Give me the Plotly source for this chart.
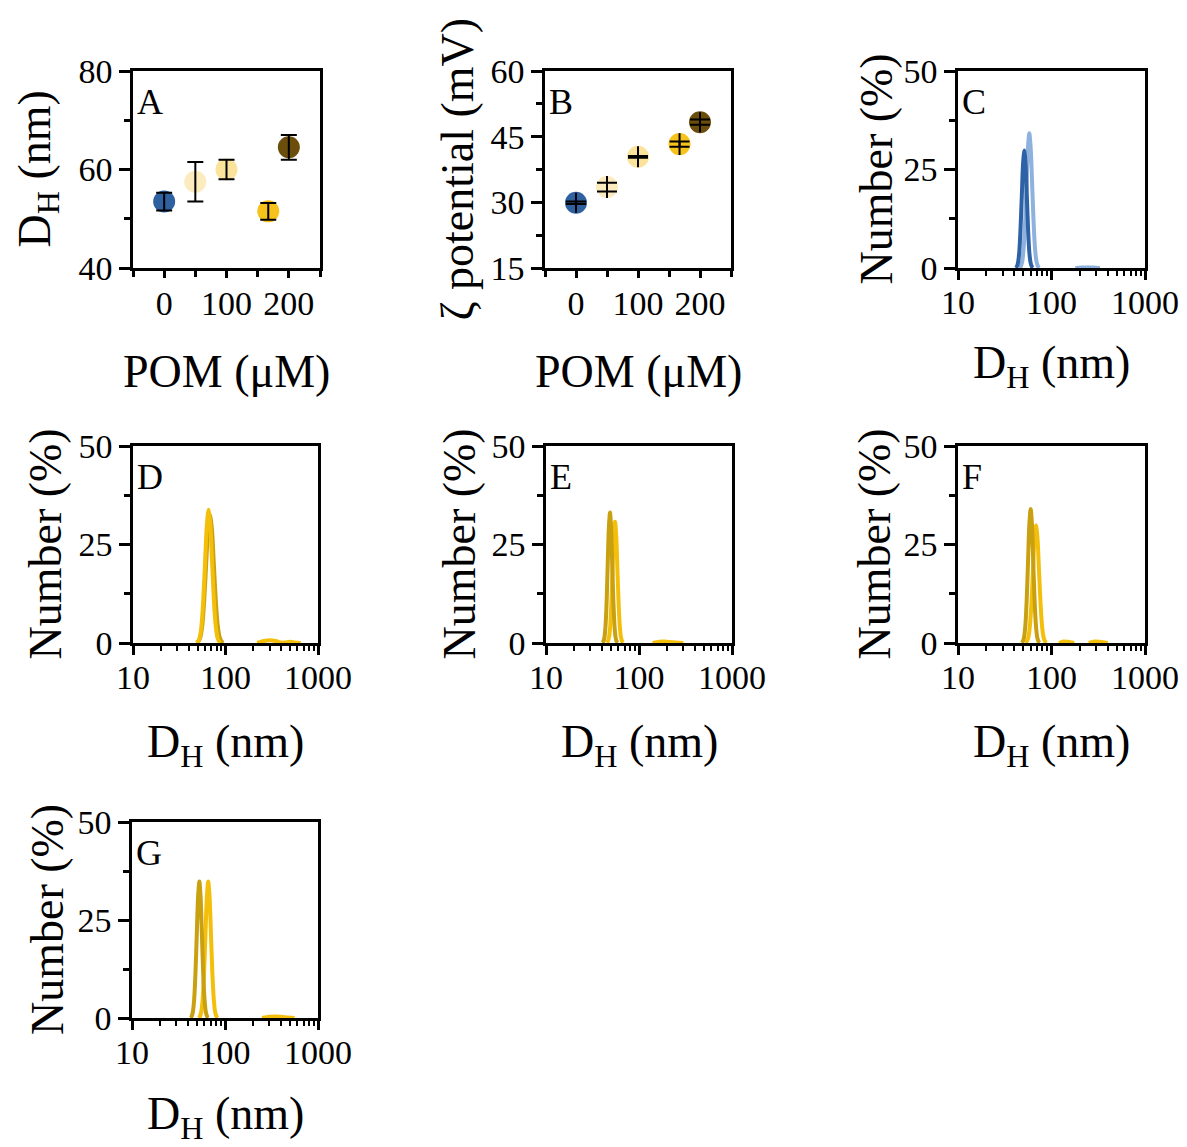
import plotly.graph_objects as go

W, H = 1187, 1147
FONT = "Liberation Serif"

# ---- Panel A / B : DLS size and zeta potential vs POM concentration ----
pom_conc = [0, 50, 100, 167, 200]
point_colors = ["#2f60a0", "#fbebbf", "#fbe39c", "#f6c21c", "#6b4d0c"]

dh_mean = [53.5, 57.5, 60.0, 51.5, 64.5]
dh_err = [1.8, 4.0, 2.0, 1.7, 2.5]

zeta_mean = [29.9, 33.5, 40.4, 43.3, 48.3]
zeta_err_outer = [2.3, 2.5, 2.4, 2.5, 2.3]
zeta_err_inner = [0.3, 1.0, 0.2, 0.6, 0.6]

# ---- Panels C-G : number-weighted size distributions ----
c_dark_x = [41.2, 42.5, 43.8, 45.2, 46.6, 48.1, 49.6, 51.2, 52.8, 54.5, 56.2, 57.9, 59.8, 61.7, 63.6]
c_dark_y = [0.07, 0.33, 1.31, 4.03, 9.68, 18.07, 26.3, 29.8, 26.3, 18.07, 9.68, 4.03, 1.31, 0.33, 0.07]
c_light_x = [45.1, 46.8, 48.5, 50.2, 52.1, 54.0, 55.9, 57.9, 60.0, 62.2, 64.5, 66.8, 69.3, 71.8, 74.4,
             None, 180, 210, 240, 280, 330]
c_light_y = [0.08, 0.38, 1.50, 4.63, 11.1, 20.7, 30.2, 34.2, 30.2, 20.7, 11.1, 4.63, 1.50, 0.38, 0.08,
             None, 0, 0.1, 0.15, 0.1, 0]

d_dark_x = [48.5, 50.9, 53.4, 56.1, 58.8, 61.7, 64.8, 68.0, 71.4, 74.9, 78.6, 82.5, 86.6, 90.9, 95.4]
d_dark_y = [0.07, 0.36, 1.43, 4.40, 10.6, 19.7, 28.7, 32.5, 28.7, 19.7, 10.6, 4.40, 1.43, 0.36, 0.07]
d_bright_x = [48.3, 50.5, 52.7, 55.1, 57.5, 60.1, 62.8, 65.6, 68.5, 71.6, 74.8, 78.2, 81.7, 85.3, 89.1,
              None, 220, 260, 300, 350, 400, 440, 500, 560, 650]
d_bright_y = [0.07, 0.38, 1.48, 4.57, 11.0, 20.5, 29.8, 33.8, 29.8, 20.5, 11.0, 4.57, 1.48, 0.38, 0.07,
              None, 0, 0.5, 0.7, 0.5, 0.1, 0.15, 0.3, 0.15, 0]

e_dark_x = [40.2, 41.3, 42.5, 43.7, 44.9, 46.1, 47.4, 48.8, 50.1, 51.5, 53.0, 54.5, 56.0, 57.5, 59.2]
e_dark_y = [0.07, 0.37, 1.45, 4.48, 10.7, 20.1, 29.2, 33.1, 29.2, 20.1, 10.7, 4.48, 1.45, 0.37, 0.07]
e_bright_x = [44.8, 46.1, 47.5, 49.0, 50.4, 52.0, 53.6, 55.2, 56.9, 58.6, 60.4, 62.2, 64.1, 66.1, 68.1,
              None, 140, 165, 185, 210, 250, 300]
e_bright_y = [0.07, 0.34, 1.35, 4.17, 10.0, 18.7, 27.2, 30.8, 27.2, 18.7, 10.0, 4.17, 1.35, 0.34, 0.07,
              None, 0, 0.3, 0.4, 0.25, 0.1, 0]

f_dark_x = [47.8, 49.3, 50.9, 52.6, 54.3, 56.1, 57.9, 59.9, 61.8, 63.8, 65.9, 68.1, 70.3, 72.6, 75.0]
f_dark_y = [0.07, 0.38, 1.49, 4.60, 11.0, 20.6, 30.0, 34.0, 30.0, 20.6, 11.0, 4.60, 1.49, 0.38, 0.07]
f_bright_x = [52.3, 54.3, 56.4, 58.6, 60.9, 63.2, 65.7, 68.3, 70.9, 73.6, 76.5, 79.4, 82.5, 85.7, 89.0,
              None, 120, 135, 150, 175, None, 250, 290, 330, 400]
f_bright_y = [0.07, 0.33, 1.31, 4.05, 9.71, 18.1, 26.4, 29.9, 26.4, 18.1, 9.71, 4.05, 1.31, 0.33, 0.07,
              None, 0, 0.4, 0.3, 0, None, 0, 0.4, 0.3, 0]

g_dark_x = [42.3, 43.7, 45.1, 46.6, 48.1, 49.7, 51.3, 53.0, 54.7, 56.5, 58.3, 60.3, 62.2, 64.3, 66.4]
g_dark_y = [0.08, 0.39, 1.53, 4.71, 11.3, 21.1, 30.7, 34.8, 30.7, 21.1, 11.3, 4.71, 1.53, 0.39, 0.08]
g_bright_x = [51.8, 53.6, 55.5, 57.5, 59.5, 61.6, 63.8, 66.0, 68.3, 70.7, 73.2, 75.8, 78.4, 81.2, 84.0,
              None, 250, 300, 340, 400, 480, 560]
g_bright_y = [0.08, 0.39, 1.53, 4.71, 11.3, 21.1, 30.7, 34.8, 30.7, 21.1, 11.3, 4.71, 1.53, 0.39, 0.08,
              None, 0, 0.3, 0.4, 0.3, 0.1, 0]

BLUE_DARK, BLUE_LIGHT = "#2d62a6", "#8eb1dd"
GOLD_DARK, GOLD_BRIGHT = "#c9a010", "#f4bf0a"

# panel boxes in pixels: (left, top, right, bottom)
boxes = {
    "A": (133, 71, 320, 268),
    "B": (545, 71, 731, 268),
    "C": (958, 71, 1145, 268),
    "D": (133, 446, 318, 643),
    "E": (546, 446, 732, 643),
    "F": (958, 446, 1145, 643),
    "G": (132, 822, 318, 1018),
}


def fx(px):
    return px / W


def fy(py):
    return 1 - py / H


fig = go.Figure()

axis_common = dict(
    showline=True, linewidth=2.5, linecolor="black", mirror=True,
    ticks="outside", tickwidth=2.5, tickcolor="black", ticklen=7,
    showgrid=False, zeroline=False, automargin=False,
    tickfont=dict(family=FONT, size=34, color="black"),
)

layout = {}
for i, (name, (l, t, r, b)) in enumerate(boxes.items(), start=1):
    xa = "xaxis" if i == 1 else f"xaxis{i}"
    ya = "yaxis" if i == 1 else f"yaxis{i}"
    xref = "x" if i == 1 else f"x{i}"
    yref = "y" if i == 1 else f"y{i}"
    xd = dict(axis_common, domain=[fx(l), fx(r)], anchor=yref, ticklabelstandoff=-4)
    yd = dict(axis_common, domain=[fy(b), fy(t)], anchor=xref, ticklen=11)
    if name in ("A", "B"):
        xd.update(range=[-50, 250], tick0=0, dtick=100,
                  minor=dict(ticks="outside", ticklen=6, tickwidth=2.5, tickcolor="black", dtick=50, tick0=0))
        if name == "A":
            yd.update(range=[40, 80], tick0=40, dtick=20,
                      minor=dict(ticks="outside", ticklen=6, tickwidth=2.5, tickcolor="black", dtick=10))
        else:
            yd.update(range=[15, 60], tick0=15, dtick=15,
                      minor=dict(ticks="outside", ticklen=6, tickwidth=2.5, tickcolor="black", dtick=7.5))
    else:
        xd.update(type="log", range=[1, 3], dtick=1, exponentformat="none", ticklen=9,
                  ticklabelstandoff=-7,
                  minor=dict(ticks="outside", ticklen=5, tickwidth=2, tickcolor="black"))
        yd.update(range=[0, 50], tick0=0, dtick=25,
                  minor=dict(ticks="outside", ticklen=6, tickwidth=2.5, tickcolor="black", dtick=12.5))
    layout[xa] = xd
    layout[ya] = yd

# ---- A: markers, then error bars with end caps on top ----
fig.add_trace(go.Scatter(
    x=pom_conc, y=dh_mean, mode="markers", xaxis="x", yaxis="y",
    marker=dict(size=22, color=point_colors, line=dict(width=0)),
    showlegend=False, cliponaxis=False,
))
fig.add_trace(go.Scatter(
    x=pom_conc, y=dh_mean, mode="markers", xaxis="x", yaxis="y",
    marker=dict(size=1, color="rgba(0,0,0,0)"),
    error_y=dict(type="data", array=dh_err, visible=True, color="black", thickness=2, width=8),
    showlegend=False, cliponaxis=False,
))

# ---- B: markers, a plain vertical bar and two short cross lines on top ----
fig.add_trace(go.Scatter(
    x=pom_conc, y=zeta_mean, mode="markers", xaxis="x2", yaxis="y2",
    marker=dict(size=22, color=point_colors, line=dict(width=0)),
    showlegend=False, cliponaxis=False,
))
fig.add_trace(go.Scatter(
    x=pom_conc, y=zeta_mean, mode="markers", xaxis="x2", yaxis="y2",
    marker=dict(size=1, color="rgba(0,0,0,0)"),
    error_y=dict(type="data", array=zeta_err_outer, visible=True, color="black", thickness=2, width=0),
    showlegend=False, cliponaxis=False,
))
fig.add_trace(go.Scatter(
    x=pom_conc, y=zeta_mean, mode="markers", xaxis="x2", yaxis="y2",
    marker=dict(size=1, color="rgba(0,0,0,0)"),
    error_y=dict(type="data", array=zeta_err_inner, visible=True, color="black", thickness=2, width=10),
    showlegend=False, cliponaxis=False,
))

# ---- C-G distributions ----
dist_panels = [
    (3, [(c_light_x, c_light_y, BLUE_LIGHT), (c_dark_x, c_dark_y, BLUE_DARK)]),
    (4, [(d_dark_x, d_dark_y, GOLD_DARK), (d_bright_x, d_bright_y, GOLD_BRIGHT)]),
    (5, [(e_bright_x, e_bright_y, GOLD_BRIGHT), (e_dark_x, e_dark_y, GOLD_DARK)]),
    (6, [(f_bright_x, f_bright_y, GOLD_BRIGHT), (f_dark_x, f_dark_y, GOLD_DARK)]),
    (7, [(g_bright_x, g_bright_y, GOLD_BRIGHT), (g_dark_x, g_dark_y, GOLD_DARK)]),
]
for idx, curves in dist_panels:
    for xs, ys, col in curves:
        fig.add_trace(go.Scatter(
            x=xs, y=ys, mode="lines", xaxis=f"x{idx}", yaxis=f"y{idx}",
            line=dict(color=col, width=4, shape="spline", smoothing=0.8),
            connectgaps=False, showlegend=False,
        ))

# ---- titles and panel letters ----
ann = []
title_font = dict(family=FONT, size=46, color="black")
x_titles = {"A": "POM (\u03bcM)", "B": "POM (\u03bcM)"}
y_titles = {"A": "D<sub>H</sub> (nm)", "B": "\u03b6 potential (mV)"}
y_offset = {"A": 96, "B": 88, "C": 82, "D": 88, "E": 87, "F": 84, "G": 85}
x_offset = {"A": 103, "B": 103, "C": 98, "D": 102, "E": 102, "F": 102, "G": 99}
for name, (l, t, r, b) in boxes.items():
    xt = x_titles.get(name, "D<sub>H</sub> (nm)")
    yt = y_titles.get(name, "Number (%)")
    ann.append(dict(text=xt, x=fx((l + r) / 2), y=fy(b + x_offset[name]), xref="paper", yref="paper",
                    xanchor="center", yanchor="middle", showarrow=False, font=title_font))
    ann.append(dict(text=yt, x=fx(l - y_offset[name]), y=fy((t + b) / 2), xref="paper", yref="paper",
                    xanchor="center", yanchor="middle", textangle=-90, showarrow=False, font=title_font))
    ann.append(dict(text=name, x=fx(l + 2), y=fy(t + 9), xref="paper", yref="paper",
                    xanchor="left", yanchor="top", showarrow=False,
                    font=dict(family=FONT, size=36, color="black")))

fig.update_layout(
    template="none",
    width=W, height=H, margin=dict(l=0, r=0, t=0, b=0, pad=0), autosize=False,
    paper_bgcolor="white", plot_bgcolor="white",
    showlegend=False, annotations=ann, **layout,
)

fig.write_html("out.html", include_plotlyjs=True, full_html=True,
               config=dict(displayModeBar=False))
